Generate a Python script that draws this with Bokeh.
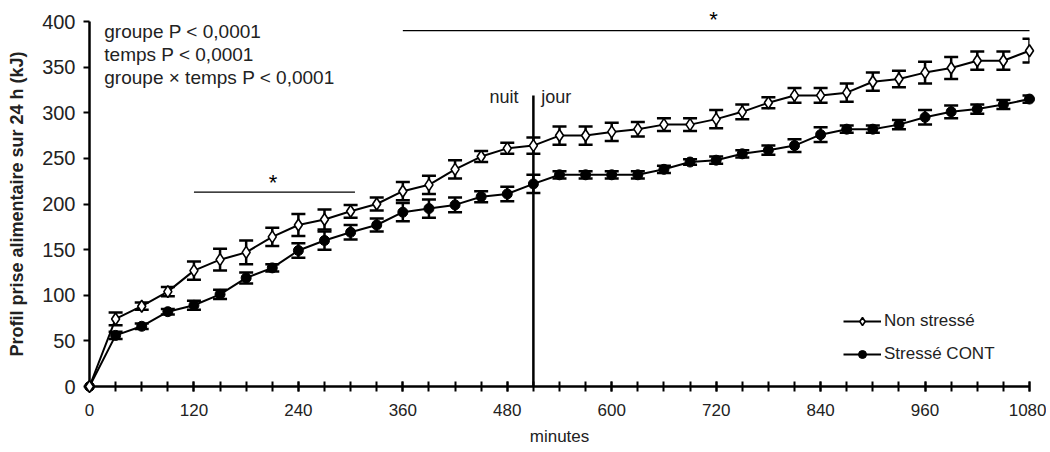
from bokeh.plotting import figure
from bokeh.models import (ColumnDataSource, Range1d, FixedTicker, SingleIntervalTicker,
                          Whisker, TeeHead, Legend, LegendItem)
from bokeh.core.properties import value
from bokeh.embed import file_html
from bokeh.resources import INLINE

# ---------------- data ----------------
minutes = [0, 30, 60, 90, 120, 150, 180, 210, 240, 270, 300, 330, 360, 390, 420, 450,
           480, 510, 540, 570, 600, 630, 660, 690, 720, 750, 780, 810, 840, 870, 900,
           930, 960, 990, 1020, 1050, 1080]
non_stresse = [0, 74, 88, 104, 127, 139, 147, 164, 177, 183, 192, 200, 214, 221, 238, 252,
               261, 264, 275, 275, 279, 282, 287, 287, 293, 301, 311, 319, 319, 322, 334,
               337, 344, 349, 357, 357, 368]
non_stresse_se = [0, 7, 4, 5, 10, 12, 13, 10, 12, 11, 7, 7, 10, 10, 10, 6, 6, 9, 10, 10,
                  10, 8, 7, 7, 10, 8, 6, 8, 8, 10, 10, 9, 12, 12, 10, 10, 13]
stresse_cont = [0, 56, 66, 82, 89, 101, 119, 130, 149, 160, 169, 177, 191, 195, 199, 208,
                211, 222, 232, 232, 232, 232, 238, 246, 248, 255, 259, 264, 276, 282, 282,
                287, 295, 301, 304, 309, 315]
stresse_cont_se = [0, 4, 3, 3, 5, 5, 6, 4, 8, 10, 8, 7, 10, 10, 8, 6, 8, 10, 4, 4, 4, 4, 4,
                   3, 4, 4, 5, 7, 8, 4, 4, 5, 8, 7, 5, 5, 4]
y_ticks = [0, 50, 100, 150, 200, 250, 300, 350, 400]
series_labels = ["Non stressé", "Stressé CONT"]
stats_text = ["groupe P < 0,0001", "temps P < 0,0001", "groupe × temps P < 0,0001"]
night_day = ["nuit", "jour"]
night_day_x = 510

FONT = "Liberation Sans"
BLACK = "#000000"
TXT = "#222222"

p = figure(width=1046, height=448, x_range=Range1d(0, 1080), y_range=Range1d(0, 400),
           output_backend="svg", toolbar_location=None,
           min_border_left=89, min_border_right=17, min_border_top=21, min_border_bottom=61)
p.outline_line_color = None
p.grid.visible = False
p.background_fill_color = "white"

# axes
xa = p.xaxis[0]
xa.ticker = SingleIntervalTicker(interval=120, num_minor_ticks=4)
xa.bounds = (0, 1080)
xa.axis_line_width = 2.5
xa.axis_line_color = BLACK
xa.major_tick_line_width = 2
xa.minor_tick_line_width = 2
xa.major_tick_line_color = BLACK
xa.minor_tick_line_color = BLACK
xa.major_tick_in = 5
xa.major_tick_out = 5
xa.minor_tick_in = 5
xa.minor_tick_out = 5
xa.major_label_text_font = FONT
xa.major_label_text_font_size = "17px"
xa.major_label_text_color = TXT
xa.major_label_standoff = 12
xa.axis_label = "minutes"
xa.axis_label_text_font = FONT
xa.axis_label_text_font_size = "17px"
xa.axis_label_text_font_style = "normal"
xa.axis_label_text_color = TXT
xa.axis_label_standoff = 8

ya = p.yaxis[0]
ya.ticker = FixedTicker(ticks=y_ticks, minor_ticks=[])
ya.bounds = (0, 400)
ya.axis_line_width = 2.5
ya.axis_line_color = BLACK
ya.major_tick_line_width = 2
ya.major_tick_line_color = BLACK
ya.major_tick_in = 0
ya.major_tick_out = 6
ya.minor_tick_in = 0
ya.minor_tick_out = 0
ya.major_label_text_font = FONT
ya.major_label_text_font_size = "20px"
ya.major_label_text_color = TXT
ya.major_label_standoff = 8
ya.axis_label = "Profil prise alimentaire sur 24 h (kJ)"
ya.axis_label_text_font = FONT
ya.axis_label_text_font_size = "18px"
ya.axis_label_text_font_style = "bold"
ya.axis_label_text_color = TXT
ya.axis_label_standoff = 12

# error bars (skip zero-SE origin point)
def whisker_source(vals, se):
    xs, lo, hi = [], [], []
    for m, v, e in zip(minutes, vals, se):
        if e > 0:
            xs.append(m)
            lo.append(v - e)
            hi.append(v + e)
    return ColumnDataSource(dict(x=xs, lo=lo, hi=hi))

for vals, se in ((non_stresse, non_stresse_se), (stresse_cont, stresse_cont_se)):
    w = Whisker(source=whisker_source(vals, se), base="x", lower="lo", upper="hi",
                dimension="height", line_width=2.5, line_color=BLACK,
                upper_head=TeeHead(size=14, line_width=2.5, line_color=BLACK),
                lower_head=TeeHead(size=14, line_width=2.5, line_color=BLACK))
    w.level = "underlay"
    p.add_layout(w)

overlay = []
# night/day separator
overlay.append(p.segment(x0=[night_day_x], y0=[0], x1=[night_day_x], y1=[319],
                         line_width=2.5, line_color=BLACK))
overlay.append(p.text(x=[night_day_x - 17], y=[317], text=[night_day[0]], text_font=value(FONT),
                      text_font_size="18px", text_align="right", text_baseline="middle",
                      text_color=TXT))
overlay.append(p.text(x=[night_day_x + 9], y=[317], text=[night_day[1]], text_font=value(FONT),
                      text_font_size="18px", text_align="left", text_baseline="middle",
                      text_color=TXT))

# significance bars
overlay.append(p.segment(x0=[120, 360], y0=[213, 390], x1=[305, 1080], y1=[213, 390],
                         line_width=1.3, line_color=BLACK))
overlay.append(p.text(x=[211, 717], y=[224, 402], text=["*", "*"], text_font=value(FONT),
                      text_font_size="22px", text_align="center", text_baseline="middle",
                      text_color=BLACK))

# stats text
overlay.append(p.text(x=[17, 17, 17], y=[389, 364, 339], text=stats_text, text_font=value(FONT),
                      text_font_size="19px", text_align="left", text_baseline="middle",
                      text_color=TXT))

# series
src_ns = ColumnDataSource(dict(x=minutes, y=non_stresse))
src_sc = ColumnDataSource(dict(x=minutes, y=stresse_cont))
l_ns = p.line("x", "y", source=src_ns, line_width=2, line_color=BLACK)
l_sc = p.line("x", "y", source=src_sc, line_width=2, line_color=BLACK)
s_sc = p.scatter("x", "y", source=src_sc, marker="circle", size=10,
                 fill_color=BLACK, line_color=BLACK, line_width=1)
s_ns = p.scatter("x", "y", source=src_ns, marker="diamond", size=12,
                 fill_color="white", line_color=BLACK, line_width=1.6)
overlay += [l_ns, l_sc, s_sc, s_ns]
for r in overlay:
    r.level = "overlay"

legend = Legend(items=[LegendItem(label=series_labels[0], renderers=[l_ns, s_ns]),
                       LegendItem(label=series_labels[1], renderers=[l_sc, s_sc])],
                location=(754, 22), glyph_width=38, glyph_height=20, label_height=20,
                label_standoff=3, spacing=13, padding=0, margin=0,
                border_line_color=None, background_fill_alpha=0,
                label_text_font=FONT, label_text_font_size="17px", label_text_color=TXT)
p.add_layout(legend)

open("out.html", "w").write(file_html(p, INLINE))
